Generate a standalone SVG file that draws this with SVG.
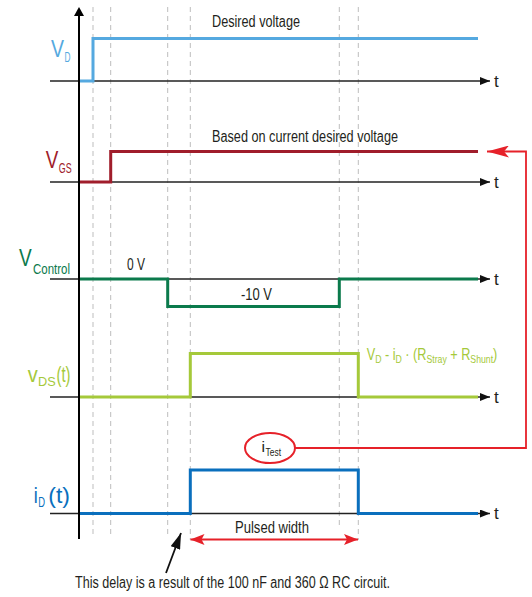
<svg xmlns="http://www.w3.org/2000/svg" width="532" height="597" viewBox="0 0 532 597">
<style>
text{font-family:"Liberation Sans Narrow","Liberation Sans",Arial,sans-serif;}
.lbl{font-size:16px;fill:#231f20;}
.t{font-size:17px;fill:#231f20;}
.axis{stroke:#222;stroke-width:1.5;fill:none;}
.dash{stroke:#bdbdbd;stroke-width:1;stroke-dasharray:5 4;fill:none;}
.sig{stroke-width:3;fill:none;stroke-linejoin:miter;}
.red{stroke:#e62129;stroke-width:1.8;fill:none;}
.cVD{fill:#55a9e0;}
.cGS{fill:#a01d2b;}
.cCT{fill:#0b7a4c;}
.cDS{fill:#a5c93a;}
.cID{fill:#0a6fbd;}
.fs{font-size:11px;}
</style>
<defs>
<marker id="ah" viewBox="0 0 10 8" refX="10" refY="4" markerWidth="10" markerHeight="8" markerUnits="userSpaceOnUse" orient="auto"><path d="M0,0 L10,4 L0,8 Z" fill="#111"/></marker>
<marker id="rh" viewBox="0 0 14 11" refX="14" refY="5.5" markerWidth="14" markerHeight="11" markerUnits="userSpaceOnUse" orient="auto"><path d="M0,0 L14,5.5 L0,11 L3,5.5 Z" fill="#e62129"/></marker>
<marker id="rhs" viewBox="0 0 14 11" refX="0" refY="5.5" markerWidth="14" markerHeight="11" markerUnits="userSpaceOnUse" orient="auto"><path d="M14,0 L0,5.5 L14,11 L11,5.5 Z" fill="#e62129"/></marker>
<marker id="rhl" viewBox="0 0 22 12" refX="22" refY="6" markerWidth="22" markerHeight="12" markerUnits="userSpaceOnUse" orient="auto"><path d="M0,0 L22,6 L0,12 L5,6 Z" fill="#e62129"/></marker>
<marker id="bh" viewBox="0 0 16 10" refX="16" refY="5" markerWidth="16" markerHeight="10" markerUnits="userSpaceOnUse" orient="auto"><path d="M0,0 L16,5 L0,10 Z" fill="#111"/></marker>
</defs>

<g id="guides">
<line class="dash" x1="93" y1="7" x2="93" y2="538"/>
<line class="dash" x1="110.7" y1="7" x2="110.7" y2="538"/>
<line class="dash" x1="167.7" y1="7" x2="167.7" y2="538"/>
<line class="dash" x1="190.3" y1="7" x2="190.3" y2="540"/>
<line class="dash" x1="339.3" y1="7" x2="339.3" y2="525"/>
<line class="dash" x1="358.3" y1="7" x2="358.3" y2="540"/>
</g>

<g id="axes">
<line class="axis" x1="50" y1="81" x2="490" y2="81" marker-end="url(#ah)"/>
<line class="axis" x1="50" y1="182" x2="490" y2="182" marker-end="url(#ah)"/>
<line class="axis" x1="50" y1="279" x2="490" y2="279" marker-end="url(#ah)" stroke="#444"/>
<line class="axis" x1="50" y1="397" x2="490" y2="397" marker-end="url(#ah)" stroke="#444"/>
<line class="axis" x1="50" y1="513.5" x2="490" y2="513.5" marker-end="url(#ah)" stroke="#444"/>
<text class="t" x="494" y="87">t</text>
<text class="t" x="494" y="188">t</text>
<text class="t" x="494" y="285">t</text>
<text class="t" x="494" y="403">t</text>
<text class="t" x="494" y="519">t</text>
<line x1="79" y1="539" x2="79" y2="16" stroke="#000" stroke-width="2"/>
<path d="M79,7 L84,16 L74,16 Z" fill="#000"/>
</g>

<g id="signal-VD">
<polyline class="sig" stroke="#55a9e0" points="80,81 93,81 93,38.5 478,38.5"/>
<text class="cVD" x="51" y="56.7" font-size="23" textLength="13" lengthAdjust="spacingAndGlyphs">V</text>
<text class="cVD" x="64.5" y="61.7" font-size="14" textLength="6" lengthAdjust="spacingAndGlyphs">D</text>
<text class="lbl" x="212" y="27" textLength="88" lengthAdjust="spacingAndGlyphs">Desired voltage</text>
</g>

<g id="signal-VGS">
<polyline class="sig" stroke="#a01d2b" points="80,182 110.7,182 110.7,151.5 478,151.5"/>
<text class="cGS" x="45.7" y="168.3" font-size="23" textLength="12.6" lengthAdjust="spacingAndGlyphs">V</text>
<text class="cGS" x="58.8" y="173.3" font-size="15" textLength="12.9" lengthAdjust="spacingAndGlyphs">GS</text>
<text class="lbl" x="212" y="141.5" textLength="186" lengthAdjust="spacingAndGlyphs">Based on current desired voltage</text>
</g>

<g id="signal-VControl">
<polyline class="sig" stroke="#0b7a4c" points="80,279 167.7,279 167.7,306.5 339.3,306.5 339.3,279 478,279"/>
<text class="cCT" x="19" y="266" font-size="23" textLength="12.7" lengthAdjust="spacingAndGlyphs">V</text>
<text class="cCT" x="33" y="274" font-size="15" textLength="37" lengthAdjust="spacingAndGlyphs">Control</text>
<text class="lbl" x="127" y="270" textLength="18" lengthAdjust="spacingAndGlyphs">0 V</text>
<text class="lbl" x="241" y="300" textLength="31" lengthAdjust="spacingAndGlyphs">-10 V</text>
</g>

<g id="signal-VDS">
<polyline class="sig" stroke="#a5c93a" points="80,397 190.3,397 190.3,353.5 358.3,353.5 358.3,397 478,397"/>
<text class="cDS" x="27.7" y="381.7" font-size="22" textLength="10" lengthAdjust="spacingAndGlyphs">v</text>
<text class="cDS" x="38" y="386" font-size="13.5" textLength="17.7" lengthAdjust="spacingAndGlyphs">DS</text>
<text class="cDS" x="56.5" y="381.7" font-size="22" textLength="14" lengthAdjust="spacingAndGlyphs">(t)</text>
<text id="formula" class="cDS" x="366.7" y="360" font-size="16" textLength="130.6" lengthAdjust="spacingAndGlyphs">V<tspan class="fs" dy="3">D</tspan><tspan dy="-3"> - i</tspan><tspan class="fs" dy="3">D</tspan><tspan dy="-3"> · (R</tspan><tspan class="fs" dy="3">Stray</tspan><tspan dy="-3"> + R</tspan><tspan class="fs" dy="3">Shunt</tspan><tspan dy="-3">)</tspan></text>
</g>

<g id="signal-ID">
<polyline class="sig" stroke="#0a6fbd" points="80,513.5 190.3,513.5 190.3,470 358.3,470 358.3,513.5 478,513.5"/>
<text class="cID" x="33.8" y="503.3" font-size="22" textLength="4" lengthAdjust="spacingAndGlyphs">i</text>
<text class="cID" x="38.2" y="507" font-size="14" textLength="6.8" lengthAdjust="spacingAndGlyphs">D</text>
<text class="cID" x="48.3" y="503.3" font-size="22" textLength="21.7" lengthAdjust="spacingAndGlyphs">(t)</text>
</g>

<g id="node-itest">
<ellipse cx="270" cy="448" rx="25" ry="15" fill="#fff" stroke="#e62129" stroke-width="2"/>
<text x="261.5" y="451.5" font-size="15" fill="#231f20" textLength="3.5" lengthAdjust="spacingAndGlyphs">i</text>
<text x="265.5" y="455.5" font-size="11" fill="#231f20" textLength="15.5" lengthAdjust="spacingAndGlyphs">Test</text>
</g>

<g id="connectors">
<polyline class="red" points="295,448 526,448 526,151.5 510,151.5 487,151.5" marker-end="url(#rhl)"/>
<line class="red" x1="190.5" y1="539.5" x2="358" y2="539.5" marker-start="url(#rhs)" marker-end="url(#rh)"/>
<line x1="166" y1="573" x2="181" y2="533" stroke="#111" stroke-width="1.8" marker-end="url(#bh)"/>
</g>

<text class="lbl" x="235" y="533" textLength="74" lengthAdjust="spacingAndGlyphs">Pulsed width</text>
<text class="lbl" x="75" y="588" textLength="315" lengthAdjust="spacingAndGlyphs">This delay is a result of the 100 nF and 360 Ω RC circuit.</text>
</svg>
